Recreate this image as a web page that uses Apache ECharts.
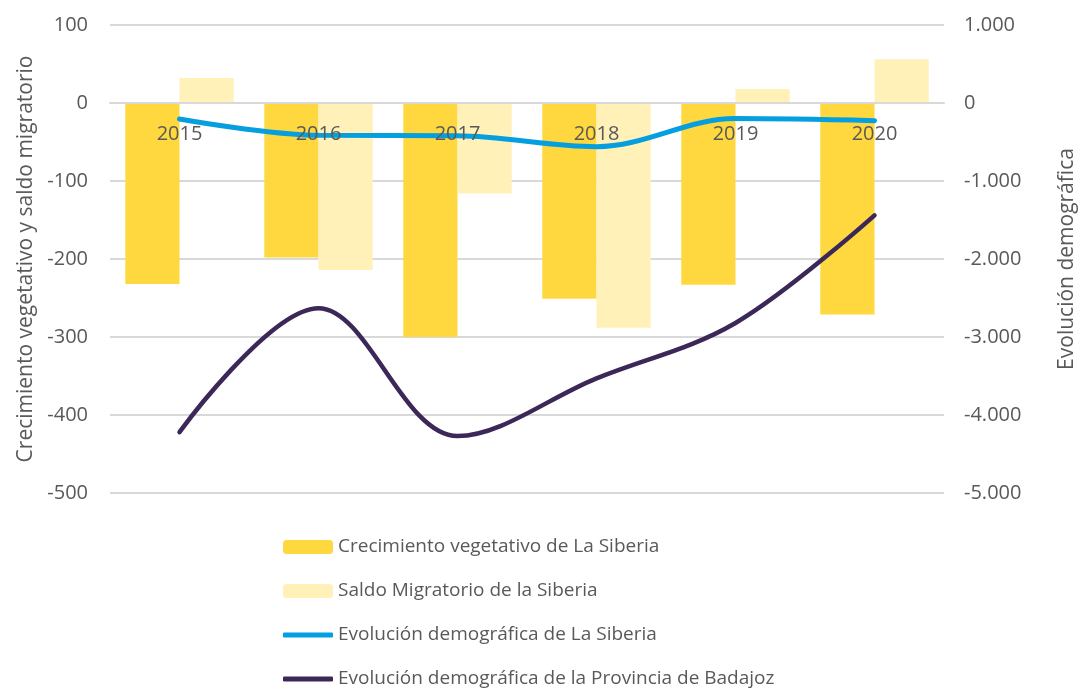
<!DOCTYPE html>
<html>
<head>
<meta charset="utf-8">
<script src="https://cdn.jsdelivr.net/npm/echarts@6/dist/echarts.min.js"></script>
<style>
  html, body { margin: 0; padding: 0; background: #fff; }
  #chart { width: 1080px; height: 691px; }
</style>
</head>
<body>
<div id="chart"></div>
<script>
const years = ['2015', '2016', '2017', '2018', '2019', '2020']
const crecimiento = [-232, -198, -300, -251, -233, -271]
const saldo = [32, -214, -116, -288, 18, 56]
const evolSiberia = [-205, -415, -420, -560, -200, -227]
const evolBadajoz = [-4220, -2630, -4270, -3530, -2820, -1440]

const textColor = '#595959'
const font = '"Open Sans", "Noto Sans", sans-serif'

const fmtMiles = v => {
  const s = Math.abs(v).toString().replace(/\B(?=(\d{3})+(?!\d))/g, '.')
  return (v < 0 ? '-' : '') + s
}

let chart = echarts.init(document.getElementById('chart'))

// dos leyendas: barras con icono rectangular, líneas con icono fino
const legendText = { fontFamily: font, fontSize: 19, color: textColor, lineHeight: 20 }

let option = {
  animation: false,
  textStyle: { fontFamily: font, color: textColor },
  grid: { left: 110, right: 136, top: 25, bottom: 198, outerBoundsMode: 'none' },
  legend: [
    {
      orient: 'vertical',
      left: 283,
      top: 537,
      padding: 0,
      itemWidth: 50,
      itemHeight: 14,
      itemGap: 24,
      textStyle: legendText,
      data: ['Crecimiento vegetativo de La Siberia', 'Saldo Migratorio de la Siberia']
    },
    {
      orient: 'vertical',
      left: 283,
      top: 625,
      padding: 0,
      itemWidth: 50,
      itemHeight: 5,
      itemGap: 24,
      textStyle: legendText,
      data: [
        { name: 'Evolución demográfica de La Siberia', icon: 'roundRect' },
        { name: 'Evolución demográfica de la Provincia de Badajoz', icon: 'roundRect' }
      ]
    }
  ],
  xAxis: {
    type: 'category',
    data: years,
    // eje de categorías a la altura del 0 (5/6 del alto del grid)
    offset: -390,
    z: 6,
    axisLine: { onZero: false, lineStyle: { color: '#d9d9d9', width: 2 } },
    axisTick: { show: false },
    axisLabel: { fontSize: 20, color: textColor, margin: 21, fontFamily: font }
  },
  yAxis: [
    {
      type: 'value',
      min: -500,
      max: 100,
      interval: 100,
      name: 'Crecimiento vegetativo y saldo migratorio',
      nameLocation: 'middle',
      nameGap: 68,
      nameTextStyle: { fontSize: 21, color: textColor, fontFamily: font },
      axisLine: { show: false },
      axisTick: { show: false },
      axisLabel: { fontSize: 20, color: textColor, margin: 22, fontFamily: font },
      splitLine: { lineStyle: { color: '#d9d9d9', width: 2 } }
    },
    {
      type: 'value',
      min: -5000,
      max: 1000,
      interval: 1000,
      name: 'Evolución demográfica',
      nameLocation: 'middle',
      nameGap: 113,
      nameRotate: 90,
      nameTextStyle: { fontSize: 21, color: textColor, fontFamily: font },
      axisLine: { show: false },
      axisTick: { show: false },
      axisLabel: { fontSize: 20, color: textColor, margin: 20, fontFamily: font, formatter: fmtMiles },
      splitLine: { show: false }
    }
  ],
  series: [
    {
      name: 'Crecimiento vegetativo de La Siberia',
      type: 'bar',
      data: crecimiento,
      barGap: '0%',
      barCategoryGap: '22%',
      itemStyle: { color: '#FFD83F' }
    },
    {
      name: 'Saldo Migratorio de la Siberia',
      type: 'bar',
      data: saldo,
      itemStyle: { color: '#FFF1B8' }
    },
    {
      name: 'Evolución demográfica de La Siberia',
      type: 'line',
      yAxisIndex: 1,
      data: evolSiberia,
      smooth: 0.35,
      symbol: 'none',
      lineStyle: { color: '#059FE0', width: 5, cap: 'round' },
      itemStyle: { color: '#059FE0' },
      z: 3
    },
    {
      name: 'Evolución demográfica de la Provincia de Badajoz',
      type: 'line',
      yAxisIndex: 1,
      data: evolBadajoz,
      smooth: 0.35,
      symbol: 'none',
      lineStyle: { color: '#3B2858', width: 4.5, cap: 'round' },
      itemStyle: { color: '#3B2858' },
      z: 3
    }
  ]
}

chart.setOption(option)
</script>
</body>
</html>
